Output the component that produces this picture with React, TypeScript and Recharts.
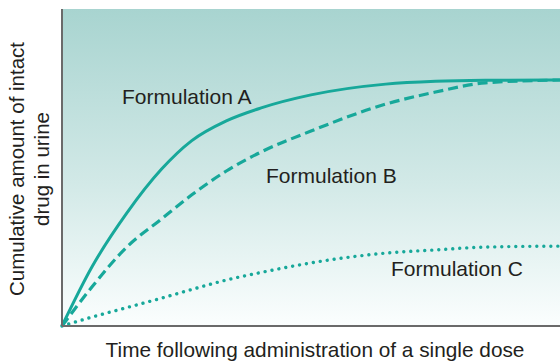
import { CartesianGrid, Line, LineChart, XAxis, YAxis } from "recharts"

// time points (arbitrary units, axis has no ticks)
const TIMES = [0, 6, 13, 20, 26, 33, 40, 50, 65, 75, 85, 100]
// cumulative amount excreted, % of axis height
const FORM_A = [0, 18.6, 35.6, 49.5, 58.4, 64.7, 68.8, 72.9, 76.3, 77.2, 77.5, 77.6]
const FORM_B = [0, 12.3, 24.9, 33.8, 41.3, 48.9, 54.9, 61.5, 70.0, 73.8, 76.7, 77.6]
const FORM_C = [0, 2.8, 5.8, 8.8, 11.5, 14.5, 16.9, 19.9, 23.0, 24.0, 24.9, 25.2]

const TEAL = "#17a89a"
const AXIS = "#6a6a6a"
const INK = "#231f20"
const FONT = "'Liberation Sans', Arial, Helvetica, sans-serif"

const data = TIMES.map((t, i) => ({ t, a: FORM_A[i], b: FORM_B[i], c: FORM_C[i] }))

export default function App() {
  return (
    <div style={{ position: "absolute", left: 0, top: 0, background: "#fff" }}>
      <LineChart
        width={560}
        height={362}
        data={data}
        margin={{ top: 9, right: 0, left: 0, bottom: 0 }}
        style={{ fontFamily: FONT }}
      >
        <defs>
          <linearGradient id="bg" x1="0" y1="0" x2="0" y2="1">
            <stop offset="0%" stopColor="#a8d4d0" />
            <stop offset="55%" stopColor="#d2e9e7" />
            <stop offset="100%" stopColor="#fbfefe" />
          </linearGradient>
        </defs>
        <CartesianGrid horizontal={false} vertical={false} fill="url(#bg)" stroke="none" />
        <XAxis
          dataKey="t"
          type="number"
          domain={[0, 100]}
          tick={false}
          tickLine={false}
          height={36}
          axisLine={{ stroke: AXIS, strokeWidth: 2 }}
        />
        <YAxis
          type="number"
          domain={[0, 100]}
          tick={false}
          tickLine={false}
          width={62}
          axisLine={{ stroke: AXIS, strokeWidth: 2 }}
        />
        <Line
          type="monotone"
          dataKey="c"
          stroke={TEAL}
          strokeWidth={3.4}
          strokeDasharray="0.01 7"
          strokeLinecap="round"
          dot={false}
          isAnimationActive={false}
        />
        <Line
          type="monotone"
          dataKey="b"
          stroke={TEAL}
          strokeWidth={3.2}
          strokeDasharray="10 5"
          dot={false}
          isAnimationActive={false}
        />
        <Line
          type="monotone"
          dataKey="a"
          stroke={TEAL}
          strokeWidth={3}
          dot={false}
          isAnimationActive={false}
        />
        <text x={122} y={104} fontSize={21} fill={INK} fontFamily={FONT}>
          Formulation A
        </text>
        <text x={266} y={183} fontSize={21} fill={INK} fontFamily={FONT}>
          Formulation B
        </text>
        <text x={391} y={276} fontSize={21} fill={INK} fontFamily={FONT}>
          Formulation C
        </text>
        <text x={315} y={357} fontSize={20.8} fill={INK} fontFamily={FONT} textAnchor="middle">
          Time following administration of a single dose
        </text>
        <text
          transform="translate(24,169) rotate(-90)"
          fontSize={20.5}
          fill={INK}
          fontFamily={FONT}
          textAnchor="middle"
        >
          Cumulative amount of intact
        </text>
        <text
          transform="translate(49,169) rotate(-90)"
          fontSize={20.5}
          fill={INK}
          fontFamily={FONT}
          textAnchor="middle"
        >
          drug in urine
        </text>
      </LineChart>
    </div>
  )
}
